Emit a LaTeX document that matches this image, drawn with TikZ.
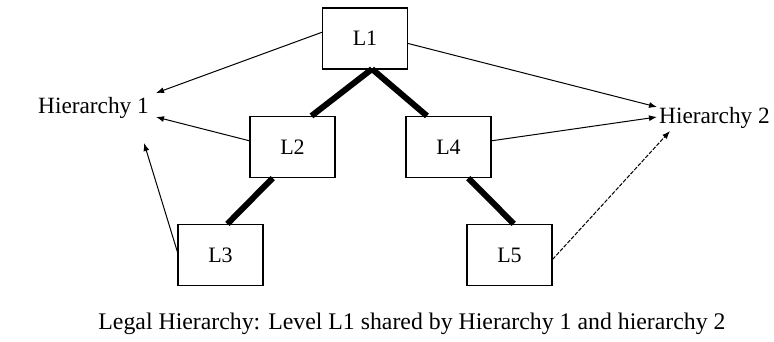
\documentclass[tikz,border=0pt]{standalone}
\usepackage{fontspec}
\setmainfont{Liberation Serif}
\usetikzlibrary{arrows.meta,calc}
\begin{document}
\begin{tikzpicture}[x=1pt,y=-1pt,
  box/.style={draw,line width=1.2pt,minimum width=85pt,minimum height=61pt,inner sep=0pt,font=\fontsize{22}{25}\selectfont},
  lbl/.style={inner sep=0pt,font=\fontsize{23.3}{26}\selectfont},
  heavylink/.style={line width=6pt},
  arr/.style={line width=1pt,-{Latex[length=8pt,width=6pt]}},
  darr/.style={arr,dash pattern=on 4pt off 1.5pt}]
\useasboundingbox (0,0) rectangle (774,341);
\node[box] (L1) at (365,38.5) {L1};
\node[box] (L2) at (292.5,147) {L2};
\node[box] (L4) at (448.5,147) {L4};
\node[box] (L3) at (220.5,255) {L3};
\node[box] (L5) at (509.5,255) {L5};
\node[lbl,anchor=west] (H1) at (38,108) {Hierarchy 1};
\node[lbl,anchor=west] (H2) at (659,118) {Hierarchy 2};
\node[lbl,font=\fontsize{23.8}{26}\selectfont] (cap) at (412,324) {Legal Hierarchy: Level L1 shared by Hierarchy 1 and hierarchy 2};
\coordinate (t1) at (372,69);
\draw[heavylink] (t1) -- ($(L2.north west)!0.72!(L2.north east)$);
\draw[heavylink] (t1) -- ($(L4.north west)!0.25!(L4.north east)$);
\draw[heavylink] ($(L2.south west)!0.27!(L2.south east)$) -- ($(L3.north west)!0.58!(L3.north east)$);
\draw[heavylink] ($(L4.south west)!0.73!(L4.south east)$) -- ($(L5.north west)!0.55!(L5.north east)$);
\draw[arr] ($(L1.north west)!0.4!(L1.south west)$) -- ($(H1.east)+(7,-15)$);
\draw[arr] ($(L2.north west)!0.4!(L2.south west)$) -- ($(H1.east)+(7,9)$);
\draw[arr] ($(L3.north west)!0.45!(L3.south west)$) -- ($(H1.east)+(-5,35)$);
\draw[arr] ($(L1.north east)!0.58!(L1.south east)$) -- ($(H2.west)+(-2,-11)$);
\draw[arr] ($(L4.north east)!0.4!(L4.south east)$) -- ($(H2.west)+(-2,-1)$);
\draw[darr] ($(L5.north east)!0.57!(L5.south east)$) -- ($(H2.west)+(11,13)$);
\end{tikzpicture}
\end{document}
